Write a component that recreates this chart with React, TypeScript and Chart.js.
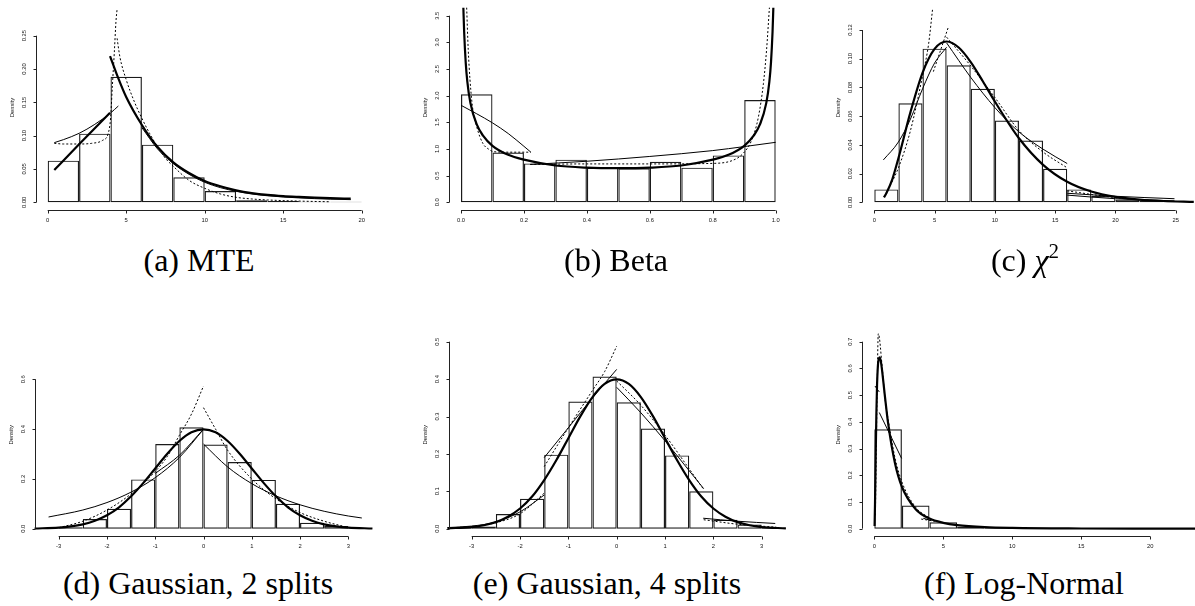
import React, { useEffect, useRef } from 'react';
import { Chart, registerables } from 'chart.js';

Chart.register(...registerables);

type Pt = [number, number];

// ---------- (a) MTE ----------
const mteBinMids = [1, 3, 5, 7, 9, 11, 13, 15, 17, 19];
const mteDensity = [0.0625, 0.103, 0.1885, 0.0865, 0.0375, 0.017, 0.003, 0.002, 0.001, 0.0008];
const mteXTicks = [0, 5, 10, 15, 20];
const mteYTicks = [0, 0.05, 0.1, 0.15, 0.2, 0.25];
const mteThinLeft: Pt[] = [[0.42, 0.0895], [1, 0.094], [2, 0.1035], [3, 0.117], [4, 0.134], [4.5, 0.1445]];
const mteThickLeft: Pt[] = [[0.42, 0.0485], [2, 0.087], [3.97, 0.1345]];
const mteThickRight: Pt[] = [[3.97, 0.2195], [4.5, 0.186], [5, 0.158], [6, 0.116], [7, 0.083], [8, 0.06], [9, 0.044], [10, 0.032], [11, 0.024], [12, 0.018], [13, 0.0138], [14, 0.011], [15, 0.0092], [16, 0.008], [17, 0.007], [18, 0.0062], [19.3, 0.0055]];
const mteThinRight: Pt[] = [[6, 0.112], [7, 0.08], [8, 0.058], [9, 0.042], [10, 0.03], [11, 0.022], [12, 0.0165], [13, 0.0125], [14, 0.0098], [15, 0.008], [16, 0.0066], [17, 0.0055], [18, 0.0047], [19.3, 0.004]];
const mteDotLeft: Pt[] = [[0.42, 0.0885], [1, 0.0875], [2, 0.0875], [2.8, 0.0885], [3.5, 0.093], [3.85, 0.103], [4.0, 0.125], [4.12, 0.175], [4.25, 0.228], [4.35, 0.272], [4.42, 0.29]];
const mteDotRight: Pt[] = [[4.42, 0.246], [4.6, 0.218], [5, 0.184], [5.5, 0.152], [6, 0.126], [6.5, 0.103], [7, 0.083], [7.5, 0.066], [8, 0.054], [9, 0.033], [10, 0.021], [11, 0.0125], [12, 0.0075], [13, 0.005], [14, 0.0035], [16, 0.0018], [18, 0.0008]];

// ---------- (b) Beta ----------
const betaBinMids = [0.05, 0.15, 0.25, 0.35, 0.45, 0.55, 0.65, 0.75, 0.85, 0.95];
const betaDensity = [2.025, 0.935, 0.73, 0.8, 0.645, 0.64, 0.76, 0.65, 0.88, 1.92];
const betaXTicks = [0, 0.2, 0.4, 0.6, 0.8, 1.0];
const betaYTicks = [0, 0.5, 1, 1.5, 2, 2.5, 3, 3.5];
const betaThick: Pt[] = [[0.0075, 3.65], [0.01, 3.2], [0.015, 2.62], [0.02, 2.27], [0.03, 1.86], [0.05, 1.46], [0.07, 1.25], [0.1, 1.06], [0.15, 0.89], [0.2, 0.8], [0.3, 0.69], [0.4, 0.65], [0.5, 0.64], [0.6, 0.65], [0.7, 0.69], [0.8, 0.8], [0.85, 0.89], [0.9, 1.06], [0.93, 1.25], [0.95, 1.46], [0.97, 1.86], [0.98, 2.27], [0.985, 2.62], [0.99, 3.2], [0.9925, 3.65]];
const betaThinLeft: Pt[] = [[0, 1.82], [0.05, 1.66], [0.1, 1.49], [0.15, 1.29], [0.2, 1.05], [0.222, 0.94]];
const betaThinRight: Pt[] = [[0.22, 0.71], [0.4, 0.77], [0.6, 0.86], [0.8, 0.97], [0.9, 1.045], [1, 1.125]];
const betaDotLeft: Pt[] = [[0.018, 3.65], [0.023, 2.86], [0.034, 1.92], [0.05, 1.42], [0.07, 1.1], [0.087, 1.0], [0.103, 0.95], [0.15, 0.94], [0.222, 0.94]];
const betaDotRight: Pt[] = [[0.22, 0.71], [0.4, 0.72], [0.6, 0.72], [0.8, 0.73], [0.865, 0.79], [0.897, 0.92], [0.924, 1.17], [0.945, 1.6], [0.961, 2.23], [0.971, 2.86], [0.98, 3.65]];

// ---------- (c) Chi-square ----------
const chiBinMids = [1, 3, 5, 7, 9, 11, 13, 15, 17, 19, 21, 23, 25];
const chiDensity = [0.009, 0.069, 0.107, 0.0954, 0.079, 0.057, 0.043, 0.0234, 0.009, 0.0044, 0.002, 0.001, 0.0005];
const chiXTicks = [0, 5, 10, 15, 20, 25];
const chiYTicks = [0, 0.02, 0.04, 0.06, 0.08, 0.1, 0.12];
const chiThick: Pt[] = [[0.8, 0.0034], [1, 0.0063], [1.5, 0.0162], [2, 0.0307], [3, 0.0628], [4, 0.0902], [5, 0.1069], [6, 0.112], [7, 0.1078], [8, 0.0977], [9, 0.0843], [10, 0.0702], [12, 0.0446], [14, 0.0261], [16, 0.0143], [18, 0.0075], [20, 0.0038], [22, 0.0019], [24, 0.0009], [26.5, 0.0003]];
const chiThinLeft: Pt[] = [[0.75, 0.0295], [2, 0.042], [3, 0.058], [4, 0.079], [5, 0.097], [6, 0.108]];
const chiThinRight: Pt[] = [[6, 0.111], [8, 0.087], [10, 0.066], [12, 0.049], [14, 0.037], [16, 0.027]];
const chiDotA: Pt[] = [[0.83, 0.004], [2, 0.024], [3, 0.05], [4, 0.088], [4.5, 0.11], [4.84, 0.135]];
const chiDotB: Pt[] = [[4.9, 0.091], [6.14, 0.122]];
const chiDotC: Pt[] = [[6, 0.115], [8, 0.095], [10, 0.073], [12, 0.05], [14, 0.035], [16, 0.024]];
const chiTailThinA: Pt[] = [[16, 0.0063], [20, 0.0042], [24.9, 0.0025]];
const chiTailThinB: Pt[] = [[16, 0.005], [20, 0.0025], [24.9, 0.001]];
const chiTailDot: Pt[] = [[16, 0.008], [18, 0.0055], [20, 0.0033], [22, 0.0018], [24, 0.0009]];

// ---------- (d), (e) Gaussian ----------
const gaussBinMids = [-3.25, -2.75, -2.25, -1.75, -1.25, -0.75, -0.25, 0.25, 0.75, 1.25, 1.75, 2.25, 2.75, 3.25];
const gaussDensity = [0.002, 0.006, 0.039, 0.08, 0.198, 0.34, 0.407, 0.338, 0.268, 0.196, 0.1, 0.024, 0.011, 0.002];
const gaussXTicks = [-3, -2, -1, 0, 1, 2, 3];
const gauss2YTicks = [0, 0.2, 0.4, 0.6];
const gauss4YTicks = [0, 0.1, 0.2, 0.3, 0.4, 0.5];
const normalThick: Pt[] = [[-3.5, 0.0009], [-3, 0.0044], [-2.75, 0.0091], [-2.5, 0.0175], [-2.25, 0.032], [-2, 0.054], [-1.75, 0.086], [-1.5, 0.13], [-1.25, 0.183], [-1, 0.242], [-0.75, 0.301], [-0.5, 0.352], [-0.25, 0.387], [0, 0.399], [0.25, 0.387], [0.5, 0.352], [0.75, 0.301], [1, 0.242], [1.25, 0.183], [1.5, 0.13], [1.75, 0.086], [2, 0.054], [2.25, 0.032], [2.5, 0.0175], [2.75, 0.0091], [3, 0.0044], [3.5, 0.0009]];
const g2ThinLeft: Pt[] = [[-3.21, 0.047], [-2.5, 0.075], [-2, 0.105], [-1.5, 0.147], [-1, 0.205], [-0.5, 0.286], [0, 0.399]];
const g2ThinRight: Pt[] = [[0, 0.34], [0.5, 0.248], [1, 0.181], [1.5, 0.132], [2, 0.096], [2.5, 0.07], [3, 0.051], [3.28, 0.043]];
const g2ThinMid: Pt[] = [[-1, 0.222], [-0.5, 0.295], [0, 0.4]];
const g2DotLeft: Pt[] = [[-3, 0.004], [-2.5, 0.03], [-2, 0.075], [-1.5, 0.14], [-1, 0.23], [-0.75, 0.29], [-0.5, 0.375], [-0.25, 0.46], [0, 0.573]];
const g2DotRight: Pt[] = [[0, 0.486], [0.25, 0.4], [0.5, 0.315], [1, 0.2], [1.5, 0.12], [2, 0.065], [2.5, 0.03], [3, 0.005]];
const g4DotLeft: Pt[] = [[-1.5, 0.166], [-1, 0.27], [-0.5, 0.37], [-0.25, 0.42], [0, 0.488]];
const g4ThinLeft: Pt[] = [[-1.5, 0.19], [-1, 0.27], [-0.5, 0.35], [0, 0.426]];
const g4DotRight: Pt[] = [[0, 0.395], [0.5, 0.33], [1, 0.25], [1.5, 0.16], [1.8, 0.105]];
const g4ThinRight: Pt[] = [[0, 0.378], [0.5, 0.31], [1, 0.235], [1.5, 0.155], [1.8, 0.107]];
const g4TailThin: Pt[] = [[1.79, 0.028], [2.5, 0.02], [3.28, 0.014]];
const g4TailDot: Pt[] = [[1.8, 0.024], [2.5, 0.012], [3.3, 0.004]];
const g4LeftThin: Pt[] = [[-3.5, 0.003], [-3, 0.007], [-2.5, 0.018], [-2, 0.045], [-1.5, 0.09]];
const g4LeftDot: Pt[] = [[-3.5, 0.002], [-3, 0.006], [-2.5, 0.016], [-2, 0.04], [-1.5, 0.095]];

// ---------- (f) Log-Normal ----------
const lnBinMids = [1, 3, 5, 7, 9, 11, 13, 15, 17, 19, 21];
const lnDensity = [0.372, 0.087, 0.024, 0.0075, 0.003, 0.0015, 0.001, 0.0006, 0.0004, 0.0003, 0.0002];
const lnXTicks = [0, 5, 10, 15, 20];
const lnYTicks = [0, 0.1, 0.2, 0.3, 0.4, 0.5, 0.6, 0.7];
const lnThick: Pt[] = [[0.02, 0.01], [0.05, 0.09], [0.1, 0.27], [0.15, 0.43], [0.2, 0.54], [0.3, 0.63], [0.4, 0.641], [0.5, 0.618], [0.75, 0.505], [1, 0.395], [1.5, 0.245], [2, 0.157], [3, 0.073], [4, 0.038], [5, 0.022], [6, 0.0134], [8, 0.0057], [10, 0.0028], [15, 0.0007], [20, 0.0002], [23.5, 0.0001]];
const lnDot: Pt[] = [[0.08, 0.05], [0.2, 0.5], [0.29, 0.73], [0.58, 0.6], [0.77, 0.49], [1, 0.41], [1.5, 0.265], [2, 0.175], [3, 0.08], [4, 0.04]];
const lnThinA: Pt[] = [[0.05, 0.534], [0.36, 0.512]];
const lnThinB: Pt[] = [[0.36, 0.435], [1.98, 0.263]];
const lnThinC: Pt[] = [[3.55, 0.039], [4.15, 0.03]];
const lnDotC: Pt[] = [[3.4, 0.036], [4.4, 0.028]];

// ---------- layout ----------
type Style = 'thick' | 'thin' | 'dot';
interface PanelCfg {
  key: string;
  cell: { x: number; y: number; w: number; h: number };
  area: { l: number; t: number; r: number; b: number };
  xMap: [number, number, number, number];
  yMap: [number, number, number, number];
  mids: number[];
  heights: number[];
  xTicks: number[];
  yTicks: number[];
  xDec: number;
  yDec: number;
  curves: { pts: Pt[]; style: Style }[];
}

const panels: PanelCfg[] = [
  {
    key: 'a', cell: { x: 0, y: 0, w: 400, h: 240 }, area: { l: 36, t: 5, r: 390, b: 210 },
    xMap: [0, 47.7, 20, 361.7], yMap: [0, 202.3, 0.25, 35.7],
    mids: mteBinMids, heights: mteDensity, xTicks: mteXTicks, yTicks: mteYTicks, xDec: 0, yDec: 2,
    curves: [
      { pts: mteThinLeft, style: 'thin' }, { pts: mteThickLeft, style: 'thick' },
      { pts: mteThickRight, style: 'thick' }, { pts: mteThinRight, style: 'thin' },
      { pts: mteDotLeft, style: 'dot' }, { pts: mteDotRight, style: 'dot' },
    ],
  },
  {
    key: 'b', cell: { x: 400, y: 0, w: 395, h: 240 }, area: { l: 449, t: 5, r: 790, b: 210 },
    xMap: [0, 461, 1, 775.7], yMap: [0, 202.3, 3.5, 15.7],
    mids: betaBinMids, heights: betaDensity, xTicks: betaXTicks, yTicks: betaYTicks, xDec: 1, yDec: 1,
    curves: [
      { pts: betaThick, style: 'thick' }, { pts: betaThinLeft, style: 'thin' },
      { pts: betaThinRight, style: 'thin' }, { pts: betaDotLeft, style: 'dot' }, { pts: betaDotRight, style: 'dot' },
    ],
  },
  {
    key: 'c', cell: { x: 795, y: 0, w: 400, h: 240 }, area: { l: 862.7, t: 5, r: 1195, b: 210 },
    xMap: [0, 874.3, 25, 1175.7], yMap: [0, 202.3, 0.12, 30],
    mids: chiBinMids, heights: chiDensity, xTicks: chiXTicks, yTicks: chiYTicks, xDec: 0, yDec: 2,
    curves: [
      { pts: chiThick, style: 'thick' }, { pts: chiThinLeft, style: 'thin' }, { pts: chiThinRight, style: 'thin' },
      { pts: chiDotA, style: 'dot' }, { pts: chiDotB, style: 'dot' }, { pts: chiDotC, style: 'dot' },
      { pts: chiTailThinA, style: 'thin' }, { pts: chiTailThinB, style: 'thin' }, { pts: chiTailDot, style: 'dot' },
    ],
  },
  {
    key: 'd', cell: { x: 0, y: 300, w: 400, h: 260 }, area: { l: 35, t: 333, r: 390, b: 536.7 },
    xMap: [-3, 58.7, 3, 348.3], yMap: [0, 528.7, 0.6, 379.3],
    mids: gaussBinMids, heights: gaussDensity, xTicks: gaussXTicks, yTicks: gauss2YTicks, xDec: 0, yDec: 1,
    curves: [
      { pts: normalThick, style: 'thick' }, { pts: g2ThinLeft, style: 'thin' }, { pts: g2ThinRight, style: 'thin' },
      { pts: g2ThinMid, style: 'thin' }, { pts: g2DotLeft, style: 'dot' }, { pts: g2DotRight, style: 'dot' },
    ],
  },
  {
    key: 'e', cell: { x: 400, y: 300, w: 395, h: 260 }, area: { l: 449, t: 333, r: 790, b: 536.7 },
    xMap: [-3, 471.7, 3, 761.7], yMap: [0, 528.7, 0.5, 341.7],
    mids: gaussBinMids, heights: gaussDensity, xTicks: gaussXTicks, yTicks: gauss4YTicks, xDec: 0, yDec: 1,
    curves: [
      { pts: normalThick, style: 'thick' }, { pts: g4DotLeft, style: 'dot' }, { pts: g4ThinLeft, style: 'thin' },
      { pts: g4DotRight, style: 'dot' }, { pts: g4ThinRight, style: 'thin' }, { pts: g4TailThin, style: 'thin' },
      { pts: g4TailDot, style: 'dot' }, { pts: g4LeftThin, style: 'thin' }, { pts: g4LeftDot, style: 'dot' },
    ],
  },
  {
    key: 'f', cell: { x: 795, y: 300, w: 400, h: 260 }, area: { l: 862.7, t: 333, r: 1195, b: 536.7 },
    xMap: [0, 874.3, 20, 1150.3], yMap: [0, 528.7, 0.7, 341.7],
    mids: lnBinMids, heights: lnDensity, xTicks: lnXTicks, yTicks: lnYTicks, xDec: 0, yDec: 1,
    curves: [
      { pts: lnThick, style: 'thick' }, { pts: lnDot, style: 'dot' }, { pts: lnThinA, style: 'thin' },
      { pts: lnThinB, style: 'thin' }, { pts: lnThinC, style: 'thin' }, { pts: lnDotC, style: 'dot' },
    ],
  },
];

const captions = [
  { cx: 199, y: 244, text: '(a) MTE' },
  { cx: 616, y: 244, text: '(b) Beta' },
  { cx: 1025, y: 244, text: 'chi' },
  { cx: 198, y: 567, text: '(d) Gaussian, 2 splits' },
  { cx: 607, y: 567, text: '(e) Gaussian, 4 splits' },
  { cx: 1024, y: 567, text: '(f) Log-Normal' },
];

const AXIS_FONT = '5.8px "Liberation Sans", Arial, sans-serif';

function makeAxesPlugin(p: PanelCfg) {
  return {
    id: 'rAxes',
    afterDraw(chart: any) {
      const { ctx, chartArea } = chart;
      const xs = chart.scales.x;
      const ys = chart.scales.y;
      ctx.save();
      ctx.strokeStyle = '#222';
      ctx.lineWidth = 1;
      ctx.setLineDash([]);
      // x axis
      const yb = Math.floor(chartArea.bottom) + 0.5;
      const xa = xs.getPixelForValue(p.xTicks[0]);
      const xz = xs.getPixelForValue(p.xTicks[p.xTicks.length - 1]);
      ctx.beginPath();
      ctx.moveTo(xa, yb);
      ctx.lineTo(xz, yb);
      p.xTicks.forEach((v) => {
        const px = Math.round(xs.getPixelForValue(v)) + 0.5;
        ctx.moveTo(px, yb);
        ctx.lineTo(px, yb + 3);
      });
      // y axis
      const xl = Math.floor(chartArea.left) + 0.5;
      const ya = ys.getPixelForValue(p.yTicks[0]);
      const yz = ys.getPixelForValue(p.yTicks[p.yTicks.length - 1]);
      ctx.moveTo(xl, ya);
      ctx.lineTo(xl, yz);
      p.yTicks.forEach((v) => {
        const py = Math.round(ys.getPixelForValue(v)) + 0.5;
        ctx.moveTo(xl, py);
        ctx.lineTo(xl - 3, py);
      });
      ctx.stroke();

      ctx.fillStyle = '#111';
      ctx.font = AXIS_FONT;
      ctx.textAlign = 'center';
      ctx.textBaseline = 'middle';
      p.xTicks.forEach((v) => {
        ctx.fillText(v.toFixed(p.xDec), xs.getPixelForValue(v), yb + 9.5);
      });
      p.yTicks.forEach((v) => {
        ctx.save();
        ctx.translate(xl - 12, ys.getPixelForValue(v));
        ctx.rotate(-Math.PI / 2);
        ctx.fillText(v.toFixed(p.yDec), 0, 0);
        ctx.restore();
      });
      ctx.save();
      ctx.translate(xl - 24.5, (chartArea.top + chartArea.bottom) / 2);
      ctx.rotate(-Math.PI / 2);
      ctx.fillText('Density', 0, 0);
      ctx.restore();
      ctx.restore();
    },
  };
}

function Panel({ cfg }: { cfg: PanelCfg }) {
  const ref = useRef<HTMLCanvasElement>(null);
  useEffect(() => {
    const canvas = ref.current;
    if (!canvas) return;
    const [xv0, xp0, xv1, xp1] = cfg.xMap;
    const xk = (xv1 - xv0) / (xp1 - xp0);
    const xMin = xv0 + (cfg.area.l - xp0) * xk;
    const xMax = xv0 + (cfg.area.r - xp0) * xk;
    const [yv0, yp0, yv1, yp1] = cfg.yMap;
    const yk = (yv1 - yv0) / (yp1 - yp0);
    const yMin = yv0 + (cfg.area.b - yp0) * yk;
    const yMax = yv0 + (cfg.area.t - yp0) * yk;

    const datasets: any[] = [
      {
        type: 'bar',
        data: cfg.mids.map((m, i) => ({ x: m, y: cfg.heights[i] })),
        backgroundColor: 'rgba(255,255,255,0)',
        borderColor: '#1a1a1a',
        borderWidth: 1.2,
        borderSkipped: false,
        barPercentage: 1,
        categoryPercentage: 1,
        inflateAmount: 0,
        order: 5,
      },
      ...cfg.curves.map((c, i) => ({
        type: 'line',
        data: c.pts.map(([x, y]) => ({ x, y })),
        borderColor: '#000',
        borderWidth: c.style === 'thick' ? 2.2 : 1,
        borderDash: c.style === 'dot' ? [2, 2] : [],
        pointRadius: 0,
        cubicInterpolationMode: 'monotone',
        fill: false,
        clip: false,
        order: 1,
      })),
    ];

    const chart = new Chart(canvas, {
      type: 'bar',
      data: { datasets },
      options: {
        responsive: false,
        animation: false,
        events: [],
        layout: {
          padding: {
            left: cfg.area.l - cfg.cell.x,
            top: cfg.area.t - cfg.cell.y,
            right: cfg.cell.x + cfg.cell.w - cfg.area.r,
            bottom: cfg.cell.y + cfg.cell.h - cfg.area.b,
          },
        },
        plugins: { legend: { display: false }, tooltip: { enabled: false } },
        scales: {
          x: {
            type: 'linear',
            min: xMin,
            max: xMax,
            offset: false,
            display: false,
            afterBuildTicks: (ax: any) => {
              ax.ticks = cfg.xTicks.map((v) => ({ value: v }));
            },
          },
          y: {
            type: 'linear',
            min: yMin,
            max: yMax,
            display: false,
            afterBuildTicks: (ax: any) => {
              ax.ticks = cfg.yTicks.map((v) => ({ value: v }));
            },
          },
        },
      } as any,
      plugins: [makeAxesPlugin(cfg)],
    } as any);
    return () => chart.destroy();
  }, [cfg]);
  return (
    <canvas
      ref={ref}
      width={cfg.cell.w}
      height={cfg.cell.h}
      style={{ position: 'absolute', left: cfg.cell.x, top: cfg.cell.y, width: cfg.cell.w, height: cfg.cell.h }}
    />
  );
}

export default function App() {
  return (
    <div style={{ position: 'absolute', left: 0, top: 0, width: 1195, height: 606, background: '#fff', overflow: 'hidden' }}>
      {panels.map((p) => (
        <Panel key={p.key} cfg={p} />
      ))}
      {captions.map((c) => (
        <div
          key={c.text}
          style={{
            position: 'absolute',
            left: c.cx - 200,
            top: c.y,
            width: 400,
            textAlign: 'center',
            fontFamily: '"Liberation Serif", "DejaVu Serif", serif',
            fontSize: 32,
            lineHeight: '32px',
            color: '#000',
            whiteSpace: 'nowrap',
          }}
        >
          {c.text === 'chi' ? (
            <span>
              (c) <i>χ</i>
              <span style={{ fontSize: 21, position: 'relative', top: -13 }}>2</span>
            </span>
          ) : (
            c.text
          )}
        </div>
      ))}
    </div>
  );
}
